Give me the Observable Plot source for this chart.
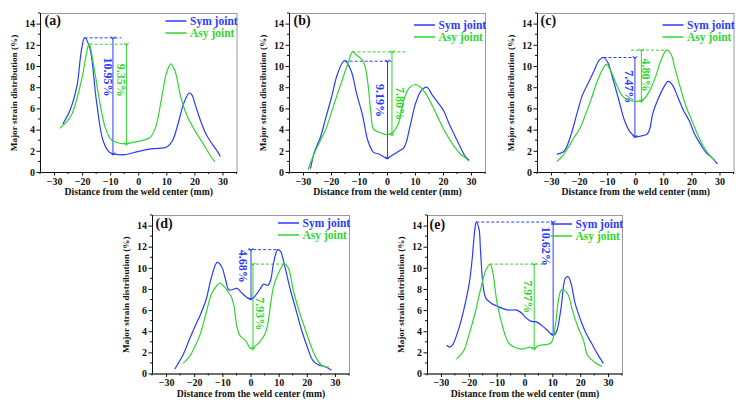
<!DOCTYPE html>
<html><head><meta charset="utf-8">
<script src="https://cdn.jsdelivr.net/npm/d3@7"></script>
<script src="https://cdn.jsdelivr.net/npm/@observablehq/plot@0.6"></script>
<style>
body{margin:0;background:#fff;width:742px;height:405px;position:relative;overflow:hidden;}
.panel{position:absolute;}
.panel svg{font-family:"Liberation Serif","Times New Roman",serif;font-weight:bold;overflow:visible;}
</style></head><body>
<script>
// ---------- data ----------
const seriesNames = ["Sym joint", "Asy joint"];
const panelLabels = ["(a)", "(b)", "(c)", "(d)", "(e)"];
const axisLabelX = "Distance from the weld center (mm)";
const axisLabelY = "Major strain distribution (%)";
const xTicks = [-30, -20, -10, 0, 10, 20, 30];
const xMinor = [-35, -25, -15, -5, 5, 15, 25, 35];
const yTicks = [0, 2, 4, 6, 8, 10, 12, 14];
const yMinor = [1, 3, 5, 7, 9, 11, 13, 15];

const aSym = [[-27,4.6],[-24.6,5.8],[-22,8.2],[-20.5,11.4],[-19.3,12.7],[-17.5,11.8],[-15.1,6.8],[-12.7,3.0],[-10.4,1.9],[-8.6,1.74],[-5,1.68],[0,2.0],[5,2.25],[10,2.4],[12,3.0],[14,4.6],[16,6.5],[18,7.5],[19,7.3],[20,6.5],[22,4.9],[24,3.6],[26,2.75],[28,2.0],[29,1.55]];
const aAsy = [[-28,4.2],[-26,4.7],[-24,5.4],[-22,7.0],[-20,9.2],[-18.5,11.4],[-17.7,12.15],[-16,10.0],[-14,6.8],[-12,4.3],[-10,3.15],[-8,2.85],[-5,2.7],[0,2.95],[4,3.3],[6,4.25],[8,6.8],[10,9.5],[11.5,10.25],[13,9.5],[15,7.1],[17,5.5],[20,3.95],[23,2.7],[25.5,1.58],[27,1.05]];
const bSym = [[-27.5,0.4],[-26,2.0],[-24,3.3],[-22,5.2],[-20,7.1],[-18,9.2],[-16,10.4],[-15.3,10.55],[-13,9.6],[-11,7.4],[-9,5.5],[-7,3.0],[-5,1.9],[-3,1.74],[-1,1.42],[0,1.36],[2,1.67],[4,2.0],[6,2.4],[8,4.3],[10,6.5],[12,7.7],[14,8.05],[16,7.3],[18,6.6],[20,5.85],[22,4.6],[24,3.5],[26,2.4],[28,1.42],[29,1.2]];
const bAsy = [[-28.3,0.3],[-26,1.9],[-24,3.0],[-22,4.1],[-20,5.7],[-18,7.3],[-16,8.85],[-14,10.4],[-12.5,11.38],[-11,11.06],[-9,10.6],[-8,10.0],[-7,8.4],[-6,5.85],[-5,4.1],[-3,3.8],[-1,3.6],[0,3.57],[2,3.8],[4,4.7],[5,5.85],[6,7.0],[8,8.05],[10,8.3],[12,8.0],[14,7.3],[16,6.3],[18,5.2],[20,4.1],[22,3.2],[24,2.4],[26,1.74],[28,1.35],[29,1.1]];
const cSym = [[-28,1.74],[-26,1.9],[-25,2.2],[-23,3.6],[-21,5.5],[-19,7.3],[-17,8.4],[-15,9.5],[-13,10.6],[-11.5,10.85],[-10,10.4],[-8,8.7],[-6,6.8],[-4,4.9],[-2,3.8],[0,3.38],[2,3.45],[4,3.6],[5,4.1],[6,5.5],[8,6.95],[10,8.05],[11.5,8.6],[13,8.3],[15,7.1],[17,5.85],[19,4.9],[21,3.6],[23,2.7],[25,1.9],[27,1.42],[29,0.85]];
const cAsy = [[-28,1.05],[-26,1.58],[-24,2.37],[-22,3.3],[-20,4.1],[-18,5.4],[-16,6.8],[-14,8.4],[-12,9.65],[-10.5,10.2],[-9,9.65],[-7,8.4],[-5,7.3],[-3,6.86],[-1,6.73],[1,6.73],[3,6.95],[5,7.75],[7,9.0],[9,10.6],[11,11.54],[12.5,11.2],[14,9.8],[16,7.9],[18,6.16],[20,4.9],[22,3.6],[24,2.5],[26,1.74],[28,1.17]];
const dSym = [[-27,0.5],[-24,1.9],[-22,3.2],[-20,4.45],[-18,5.6],[-16,7.0],[-14,9.2],[-12,10.56],[-10.5,10.2],[-9,8.9],[-8,8.0],[-7,7.95],[-5,8.1],[-3,7.6],[-1,7.16],[0,7.1],[1,7.25],[3,7.95],[4.5,8.5],[6,8.4],[7,8.9],[8,10.5],[9.5,11.77],[10.5,11.6],[12,10.2],[14,7.95],[16,6.05],[18,4.14],[20,2.55],[22,1.27],[24,0.86],[26,0.73],[28.5,0.38]];
const dAsy = [[-24,1.05],[-22,1.6],[-20,2.55],[-18,3.8],[-16,5.7],[-14,7.6],[-12,8.4],[-11,8.6],[-9,8.1],[-7,7.3],[-6,6.36],[-5,4.45],[-4,3.66],[-2,3.18],[0,2.39],[1,2.55],[3,3.0],[5,3.8],[6,4.77],[7,6.68],[8,8.27],[9,9.07],[11,10.18],[12.2,10.4],[13.5,9.86],[15,7.95],[17,6.05],[19,4.45],[21,2.86],[23,1.6],[25,0.86],[27,0.64],[27.5,0.7]];
const eSym = [[-28,2.7],[-27,2.55],[-26,2.75],[-24,4.1],[-22,6.05],[-20,8.6],[-19,10.8],[-18,13.7],[-17.5,14.38],[-16.5,13.7],[-16,11.8],[-15,8.27],[-14,7.16],[-12,6.68],[-10,6.43],[-8,6.2],[-6,6.05],[-3,6.05],[-1,5.73],[0,5.4],[2,5.0],[4,4.93],[6,4.6],[8,4.14],[9.5,3.75],[10.5,3.7],[11.5,4.14],[13,6.36],[14.5,9.07],[15.5,9.2],[16.5,8.6],[18,6.68],[20,5.09],[22,3.8],[24,2.86],[26,1.9],[28,1.05]];
const eAsy = [[-24.5,1.43],[-22,2.2],[-20,3.8],[-18,5.7],[-16,7.95],[-14,9.86],[-12.5,10.4],[-11.5,9.5],[-10,6.68],[-8,4.45],[-6,3.0],[-4,2.55],[-2,2.4],[0,2.4],[1.5,2.55],[3,2.4],[5,2.7],[8,2.8],[9.5,3.0],[11,4.77],[12,7.0],[13,7.95],[14,7.95],[15.5,7.48],[17,6.05],[19,4.45],[21,3.18],[22.5,1.75],[25,1.11],[27.5,0.73]];

// gap annotations: [dash start x, dash end x, arrow x, top, bottom, label x, label y, label]
const aSymGap = [-19.3, -6.2, -9.2, 12.7, 1.75, -11.0, 9.0, "10.95%"];
const aAsyGap = [-17.5, -3.8, -4.4, 12.1, 2.7, -6.5, 8.7, "9.35%"];
const bSymGap = [-15.3, 1.4, 0, 10.5, 1.36, -2.6, 6.8, "9.19%"];
const bAsyGap = [-12.5, 6.6, 1.6, 11.38, 3.57, 4.3, 6.5, "7.80%"];
const cSymGap = [-11.5, 0, -0.3, 10.85, 3.38, -2.3, 8.1, "7.47%"];
const cAsyGap = [-1.7, 11, 2.0, 11.54, 6.73, 3.7, 9.2, "4.80%"];
const dSymGap = [-1, 9.5, 0, 11.77, 7.1, -2.8, 10.2, "4.68%"];
const dAsyGap = [0, 12.2, 0.7, 10.4, 2.4, 3.0, 5.7, "7.93%"];
const eSymGap = [-17.5, 10.1, 10.1, 14.38, 3.75, 7.4, 12.1, "10.62%"];
const eAsyGap = [-12.5, 7.3, 3.3, 10.4, 2.4, 0.9, 7.3, "7.97%"];

// ---------- styling / layout ----------
const BLUE = "#2b3bff", GREEN = "#2fd62f";
const colors = [BLUE, GREEN];
const ML = 40, MR = 4, MT = 12, MB = 32;
const panels = [
  {label: panelLabels[0], sym: aSym, asy: aAsy, gaps: [aSymGap, aAsyGap], fl: 39.5, ft: 13, fw: 196.5, fh: 159, rows: [8, 20], lab: [4, 7], xl: 19},
  {label: panelLabels[1], sym: bSym, asy: bAsy, gaps: [bSymGap, bAsyGap], fl: 288.5, ft: 13, fw: 196, fh: 159, rows: [12, 24], lab: [4, 7], xl: 19},
  {label: panelLabels[2], sym: cSym, asy: cAsy, gaps: [cSymGap, cAsyGap], fl: 537, ft: 13, fw: 196.5, fh: 159, rows: [12, 24], lab: [3, 7], xl: 19},
  {label: panelLabels[3], sym: dSym, asy: dAsy, gaps: [dSymGap, dAsyGap], fl: 152, ft: 215, fw: 197, fh: 158.5, rows: [8, 20], lab: [3, 8], xl: 20},
  {label: panelLabels[4], sym: eSym, asy: eAsy, gaps: [eSymGap, eAsyGap], fl: 427, ft: 215, fw: 195, fh: 158.5, rows: [9, 21], lab: [2, 9], xl: 20}
];
const xDomain = [-35, 35], yDomain = [0, 15];

function legendLines(rows) {
  return (index, scales, values, dims) => {
    const g = d3.create("svg:g");
    const xr = dims.width - dims.marginRight;
    rows.forEach((r, i) => {
      g.append("line")
        .attr("x1", xr - 71).attr("x2", xr - 50)
        .attr("y1", dims.marginTop + r).attr("y2", dims.marginTop + r)
        .attr("stroke", colors[i]).attr("stroke-width", 1.5);
    });
    return g.node();
  };
}

function minorTicks(xs, ys) {
  return (index, scales, values, dims) => {
    const g = d3.create("svg:g").attr("stroke", "#111").attr("stroke-width", 1);
    const yb = dims.height - dims.marginBottom, xl = dims.marginLeft;
    xs.forEach(v => { const x = scales.x(v); g.append("line").attr("x1", x).attr("x2", x).attr("y1", yb).attr("y2", yb + 2); });
    ys.forEach(v => { const y = scales.y(v); g.append("line").attr("x1", xl).attr("x2", xl - 2).attr("y1", y).attr("y2", y); });
    return g.node();
  };
}

function gapMarks(gap, color) {
  const [xs, xe, xa, top, bot, lx, ly, lab] = gap;
  const row = [{xs, xe, xa, top, bot, lx, ly, lab}];
  return [
    Plot.link(row, {x1: "xs", x2: "xe", y1: "top", y2: "top", stroke: color, strokeWidth: 1, strokeDasharray: "3,2"}),
    Plot.link(row, {x1: "xa", x2: "xa", y1: "top", y2: "bot", stroke: color, strokeWidth: 1, markerStart: "arrow", markerEnd: "arrow"}),
    Plot.text(row, {x: "lx", y: "ly", text: "lab", rotate: 90, fill: color, fontSize: 12, fontWeight: "bold", textAnchor: "middle", lineAnchor: "middle"})
  ];
}

panels.forEach(p => {
  const width = p.fw + ML + MR, height = p.fh + MT + MB;
  const sym = p.sym.map(([x, y]) => ({x, y}));
  const asy = p.asy.map(([x, y]) => ({x, y}));
  const chart = Plot.plot({
    width, height,
    marginLeft: ML, marginRight: MR, marginTop: MT, marginBottom: MB,
    x: {domain: xDomain},
    y: {domain: yDomain},
    style: {background: "transparent", fontFamily: "'Liberation Serif', serif", fontWeight: "bold", color: "#111"},
    marks: [
      Plot.frame({stroke: "#9a9a9a", strokeWidth: 1}),
      Plot.ruleY([yDomain[0]], {stroke: "#111", strokeWidth: 1}),
      Plot.ruleX([xDomain[0]], {stroke: "#111", strokeWidth: 1}),
      Plot.axisX(xTicks, {tickSize: 3.5, tickPadding: 1.5, fontSize: 10, fontWeight: "bold", label: null}),
      Plot.axisY(yTicks, {tickSize: 3.5, tickPadding: 2, fontSize: 10, fontWeight: "bold", label: null}),
      minorTicks(xMinor, yMinor),
      Plot.text([axisLabelX], {frameAnchor: "bottom", dy: p.xl, fontSize: 9.7, fontWeight: "bold", textAnchor: "middle", lineAnchor: "middle", fill: "#111"}),
      Plot.text([axisLabelY], {frameAnchor: "left", dx: -26, rotate: -90, fontSize: 9.2, fontWeight: "bold", textAnchor: "middle", lineAnchor: "middle", fill: "#111"}),
      ...gapMarks(p.gaps[0], BLUE),
      ...gapMarks(p.gaps[1], GREEN),
      Plot.line(sym, {x: "x", y: "y", stroke: BLUE, strokeWidth: 1.2, curve: "catmull-rom"}),
      Plot.line(asy, {x: "x", y: "y", stroke: GREEN, strokeWidth: 1.2, curve: "catmull-rom"}),
      Plot.text([p.label], {frameAnchor: "top-left", dx: p.lab[0], dy: p.lab[1], fontSize: 14, fontWeight: "bold", textAnchor: "start", lineAnchor: "middle", fill: "#111"}),
      legendLines(p.rows),
      Plot.text([seriesNames[0]], {frameAnchor: "top-right", dx: -47, dy: p.rows[0], fontSize: 11.5, fontWeight: "bold", textAnchor: "start", lineAnchor: "middle", fill: BLUE}),
      Plot.text([seriesNames[1]], {frameAnchor: "top-right", dx: -47, dy: p.rows[1], fontSize: 11.5, fontWeight: "bold", textAnchor: "start", lineAnchor: "middle", fill: GREEN})
    ]
  });
  const div = document.createElement("div");
  div.className = "panel";
  div.style.left = (p.fl - ML) + "px";
  div.style.top = (p.ft - MT) + "px";
  div.appendChild(chart);
  document.body.appendChild(div);
});
</script>
</body></html>
